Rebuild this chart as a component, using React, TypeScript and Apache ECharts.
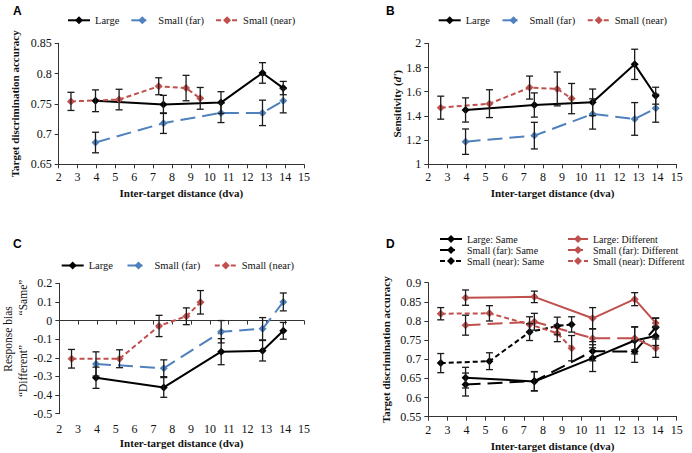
import React, { useEffect, useRef } from "react";
import * as echarts from "echarts";

const BLACK = "#000000";
const BLUE = "#4F81BD";
const RED = "#C0504D";
const SERIF = "'Liberation Serif', 'Times New Roman', serif";
const SANS = "'Liberation Sans', Arial, sans-serif";

const xTicks = { min: 2, max: 15, interval: 1 };
const xLargeFar = [3.95, 7.55, 10.6, 12.8, 13.9];
const xNear = [2.65, 5.2, 7.3, 8.75, 9.5];

// Panel A: target discrimination accuracy
const accLarge = [0.755, 0.749, 0.752, 0.801, 0.776];
const accLargeErr = [0.018, 0.015, 0.018, 0.017, 0.011];
const accFar = [0.686, 0.718, 0.735, 0.735, 0.755];
const accFarErr = [0.017, 0.017, 0.016, 0.021, 0.02];
const accNear = [0.754, 0.757, 0.779, 0.776, 0.759];
const accNearErr = [0.015, 0.017, 0.014, 0.021, 0.018];

// Panel B: sensitivity d'
const dLarge = [1.449, 1.49, 1.512, 1.826, 1.567];
const dLargeErr = [0.1, 0.1, 0.11, 0.125, 0.07];
const dFar = [1.187, 1.237, 1.416, 1.375, 1.463];
const dFarErr = [0.105, 0.11, 0.125, 0.135, 0.115];
const dNear = [1.468, 1.501, 1.634, 1.623, 1.543];
const dNearErr = [0.095, 0.115, 0.095, 0.14, 0.125];

// Panel C: response bias
const biasLarge = [-0.307, -0.359, -0.167, -0.162, -0.055];
const biasLargeErr = [0.057, 0.053, 0.07, 0.055, 0.045];
const biasFar = [-0.233, -0.256, -0.06, -0.044, 0.1];
const biasFarErr = [0.065, 0.045, 0.06, 0.06, 0.048];
const biasNear = [-0.205, -0.205, -0.029, 0.023, 0.098];
const biasNearErr = [0.05, 0.048, 0.057, 0.045, 0.063];

// Panel D: accuracy by same / different trials
const sameLarge = [0.652, 0.642, 0.703, 0.749, 0.761];
const sameLargeErr = [0.027, 0.025, 0.035, 0.035, 0.025];
const sameFar = [0.634, 0.643, 0.721, 0.72, 0.783];
const sameFarErr = [0.03, 0.025, 0.025, 0.028, 0.025];
const sameNear = [0.69, 0.695, 0.771, 0.787, 0.791];
const sameNearErr = [0.025, 0.022, 0.022, 0.023, 0.02];
const diffLarge = [0.861, 0.863, 0.807, 0.857, 0.795];
const diffLargeErr = [0.02, 0.015, 0.028, 0.017, 0.012];
const diffFar = [0.789, 0.798, 0.755, 0.755, 0.729];
const diffFarErr = [0.026, 0.022, 0.025, 0.03, 0.024];
const diffNear = [0.819, 0.82, 0.791, 0.768, 0.729];
const diffNearErr = [0.016, 0.02, 0.02, 0.022, 0.033];

const legendABC = ["Large", "Small (far)", "Small (near)"];
const legendDSame = ["Large: Same", "Small (far): Same", "Small (near): Same"];
const legendDDiff = ["Large: Different", "Small (far): Different", "Small (near): Different"];

const SOLID = "solid";
const LONG = [15, 7];
const SHORT = [5, 3];

const xIdxOfGrid = [0, 1, 2, 4];

function lineSeries(name: string, xs: number[], ys: number[], color: string, dash: any, g: number) {
  return {
    type: "line",
    name,
    xAxisIndex: xIdxOfGrid[g],
    yAxisIndex: g,
    data: xs.map((x, i) => [x, ys[i]]),
    symbol: "diamond",
    symbolSize: 8,
    lineStyle: { color, width: 2, type: dash },
    itemStyle: { color },
    z: 3,
  };
}

function errSeries(xs: number[], ys: number[], es: number[], g: number) {
  return {
    type: "custom",
    xAxisIndex: xIdxOfGrid[g],
    yAxisIndex: g,
    data: xs.map((x, i) => [x, ys[i] - es[i], ys[i] + es[i]]),
    encode: { x: 0, y: [1, 2] },
    silent: true,
    z: 4,
    renderItem: (params: any, api: any) => {
      const x = api.value(0);
      const lo = api.coord([x, api.value(1)]);
      const hi = api.coord([x, api.value(2)]);
      const w = 3.5;
      const st = { stroke: "#1a1a1a", lineWidth: 1.3 };
      return {
        type: "group",
        children: [
          { type: "line", shape: { x1: lo[0], y1: lo[1], x2: hi[0], y2: hi[1] }, style: st },
          { type: "line", shape: { x1: lo[0] - w, y1: lo[1], x2: lo[0] + w, y2: lo[1] }, style: st },
          { type: "line", shape: { x1: hi[0] - w, y1: hi[1], x2: hi[0] + w, y2: hi[1] }, style: st },
        ],
      };
    },
  };
}

const axisLineStyle = { color: "#333", width: 1 };
const serifRich = (size: number) => ({
  s: { fontFamily: SERIF, fontSize: size, color: "#111", fontWeight: "normal" },
});
const tickLabel = {
  color: "#111",
  fontFamily: SERIF,
  fontSize: 12,
  formatter: (v: number) => `{s|${parseFloat(Number(v).toFixed(3))}}`,
  rich: serifRich(12),
};
const titleStyle = { color: "#111", fontFamily: SERIF, fontSize: 11, fontWeight: "bold" as const };

function xAxis(g: number, nameGap: number, margin: number) {
  return {
    type: "value",
    gridIndex: g,
    ...xTicks,
    position: "bottom",
    name: "Inter-target distance (dva)",
    nameLocation: "middle",
    nameGap,
    nameTextStyle: titleStyle,
    axisLine: { show: true, onZero: false, lineStyle: axisLineStyle },
    axisTick: { show: true, length: 4, lineStyle: axisLineStyle },
    axisLabel: { ...tickLabel, margin },
    splitLine: { show: false },
  };
}

function yAxis(g: number, min: number, max: number, interval: number, name: any, nameGap: number, extra: any = {}) {
  return {
    type: "value",
    gridIndex: g,
    min,
    max,
    interval,
    name,
    nameLocation: "middle",
    nameGap,
    nameTextStyle: titleStyle,
    axisLine: { show: true, onZero: false, lineStyle: axisLineStyle },
    axisTick: { show: true, length: 4, lineStyle: axisLineStyle },
    axisLabel: { ...tickLabel, margin: 7 },
    splitLine: { show: false },
    ...extra,
  };
}

function legend(
  data: string[],
  left: number,
  top: number,
  itemGap: number,
  itemWidth: number,
  fontSize: number,
  orient = "horizontal"
) {
  return {
    data,
    left,
    top,
    orient,
    itemGap,
    itemWidth,
    itemHeight: 10,
    padding: 0,
    selectedMode: false,
    formatter: (n: string) => `{s|${n}}`,
    textStyle: { color: "#111", fontFamily: SERIF, fontSize, rich: serifRich(fontSize) },
  };
}

function panelLetter(t: string, left: number, top: number) {
  return {
    type: "text",
    left,
    top,
    style: { text: t, fill: "#000", fontFamily: SANS, fontWeight: "bold", fontSize: 12 },
  };
}

function rotText(t: string, x: number, y: number) {
  return {
    type: "text",
    x,
    y,
    rotation: Math.PI / 2,
    style: {
      text: t,
      fill: "#111",
      fontFamily: SERIF,
      fontSize: 11.5,
      align: "center",
      verticalAlign: "middle",
    },
  };
}

export default function App() {
  const ref = useRef<HTMLDivElement>(null);
  useEffect(() => {
    if (!ref.current) return;
    const chart = echarts.init(ref.current, null, { renderer: "svg" });
    const option: any = {
      animation: false,
      backgroundColor: "#ffffff",
      textStyle: { fontFamily: SERIF },
      grid: [
        { left: 58.7, top: 43.3, width: 245.3, height: 121 },
        { left: 428.3, top: 43.3, width: 248.4, height: 121 },
        { left: 59.3, top: 283.3, width: 244.7, height: 130.4 },
        { left: 428.3, top: 282.7, width: 248.4, height: 134 },
      ],
      xAxis: [
        xAxis(0, 23, 7),
        xAxis(1, 23, 7),
        {
          type: "value",
          gridIndex: 2,
          ...xTicks,
          position: "bottom",
          axisLine: { show: true, onZero: true, lineStyle: axisLineStyle },
          axisTick: { show: true, length: 4, lineStyle: axisLineStyle },
          axisLabel: { show: false },
          splitLine: { show: false },
        },
        {
          ...xAxis(2, 24, 9),
          axisLine: { show: false, onZero: false },
          axisTick: { show: false },
        },
        xAxis(3, 24, 7),
      ],
      yAxis: [
        yAxis(0, 0.65, 0.85, 0.05, "Target discrimination accuracy", 38),
        yAxis(1, 1, 2, 0.2, "Sensitivity ({i|d'})", 25, {
          nameTextStyle: {
            ...titleStyle,
            rich: { i: { ...titleStyle, fontStyle: "italic" } },
          },
        }),
        yAxis(2, -0.5, 0.2, 0.1, "", 40),
        yAxis(3, 0.55, 0.9, 0.05, "Target discrimination accuracy", 37),
      ],
      legend: [
        legend(legendABC, 67, 14.8, 11, 22, 10.5),
        legend(legendABC, 437.7, 14.8, 11.5, 22, 10.5),
        legend(legendABC, 60.7, 260, 13.5, 22, 10.5),
        legend(legendDSame, 439, 234, 1, 22, 10, "vertical"),
        legend(legendDDiff, 567, 234, 1, 20, 10, "vertical"),
      ],
      graphic: [
        panelLetter("A", 13, 5),
        panelLetter("B", 386, 5),
        panelLetter("C", 13, 238),
        panelLetter("D", 386, 238),
        rotText("Response bias", 7.5, 339),
        rotText("\u201CSame\u201D", 23.3, 297.5),
        rotText("\u201CDifferent\u201D", 23.3, 371),
      ],
      series: [
        // A
        errSeries(xLargeFar, accLarge, accLargeErr, 0),
        errSeries(xLargeFar, accFar, accFarErr, 0),
        errSeries(xNear, accNear, accNearErr, 0),
        lineSeries("Large", xLargeFar, accLarge, BLACK, SOLID, 0),
        lineSeries("Small (far)", xLargeFar, accFar, BLUE, LONG, 0),
        lineSeries("Small (near)", xNear, accNear, RED, SHORT, 0),
        // B
        errSeries(xLargeFar, dLarge, dLargeErr, 1),
        errSeries(xLargeFar, dFar, dFarErr, 1),
        errSeries(xNear, dNear, dNearErr, 1),
        lineSeries("Large", xLargeFar, dLarge, BLACK, SOLID, 1),
        lineSeries("Small (far)", xLargeFar, dFar, BLUE, LONG, 1),
        lineSeries("Small (near)", xNear, dNear, RED, SHORT, 1),
        // C
        errSeries(xLargeFar, biasLarge, biasLargeErr, 2),
        errSeries(xLargeFar, biasFar, biasFarErr, 2),
        errSeries(xNear, biasNear, biasNearErr, 2),
        lineSeries("Large", xLargeFar, biasLarge, BLACK, SOLID, 2),
        lineSeries("Small (far)", xLargeFar, biasFar, BLUE, LONG, 2),
        lineSeries("Small (near)", xNear, biasNear, RED, SHORT, 2),
        // D
        errSeries(xLargeFar, sameLarge, sameLargeErr, 3),
        errSeries(xLargeFar, sameFar, sameFarErr, 3),
        errSeries(xNear, sameNear, sameNearErr, 3),
        errSeries(xLargeFar, diffLarge, diffLargeErr, 3),
        errSeries(xLargeFar, diffFar, diffFarErr, 3),
        errSeries(xNear, diffNear, diffNearErr, 3),
        lineSeries("Large: Same", xLargeFar, sameLarge, BLACK, SOLID, 3),
        lineSeries("Small (far): Same", xLargeFar, sameFar, BLACK, LONG, 3),
        lineSeries("Small (near): Same", xNear, sameNear, BLACK, SHORT, 3),
        lineSeries("Large: Different", xLargeFar, diffLarge, RED, SOLID, 3),
        lineSeries("Small (far): Different", xLargeFar, diffFar, RED, LONG, 3),
        lineSeries("Small (near): Different", xNear, diffNear, RED, SHORT, 3),
      ],
    };
    chart.setOption(option);
    return () => chart.dispose();
  }, []);
  return (
    <div
      ref={ref}
      style={{ position: "fixed", left: 0, top: 0, width: 692, height: 453, background: "#fff" }}
    />
  );
}
